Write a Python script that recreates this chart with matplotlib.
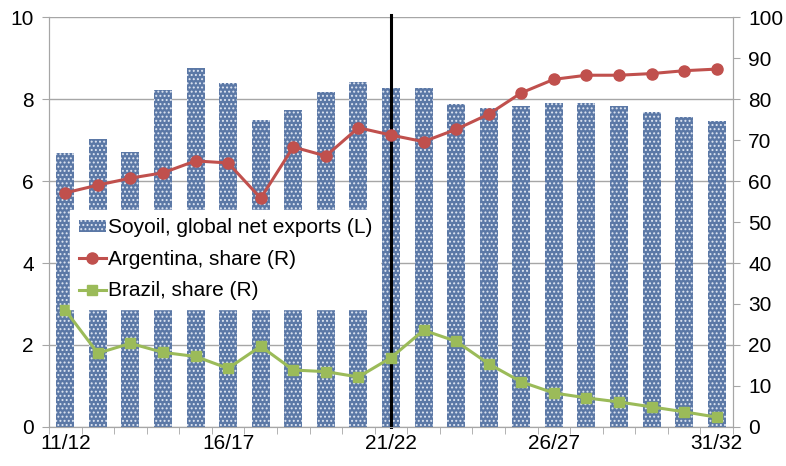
import matplotlib.pyplot as plt
import numpy as np

# marketing years 11/12 ... 31/32
years = ["%02d/%02d" % (y, y + 1) for y in range(11, 32)]
tick_labels = ["11/12", "16/17", "21/22", "26/27", "31/32"]

# soyoil global net exports (left axis)
soyoil = [6.68, 7.02, 6.70, 8.22, 8.76, 8.39, 7.49, 7.73, 8.17, 8.41, 8.27,
          8.27, 7.88, 7.78, 7.83, 7.90, 7.90, 7.83, 7.68, 7.55, 7.47]
# shares (right axis, %)
argentina = [57.1, 59.0, 60.7, 62.0, 64.9, 64.4, 55.8, 68.3, 66.1, 73.0, 71.2,
             69.6, 72.6, 76.3, 81.5, 84.8, 85.8, 85.8, 86.2, 86.9, 87.3]
brazil = [28.5, 18.0, 20.4, 18.2, 17.2, 14.3, 19.7, 13.9, 13.5, 12.2, 16.9,
          23.6, 20.9, 15.4, 11.0, 8.3, 7.1, 6.1, 4.9, 3.7, 2.4]
divider = "21/22"

plt.rcParams['font.family'] = ['Liberation Sans', 'DejaVu Sans']
plt.rcParams['hatch.linewidth'] = 0.9
plt.rcParams['hatch.color'] = '#dfe6f2'

grey = '#a6a6a6'
x = np.arange(len(years))

fig = plt.figure(figsize=(7.86, 4.66), dpi=100)
ax = fig.add_axes([0.0623, 0.0837, 0.8703, 0.8798])
ax2 = ax.twinx()

bars = ax.bar(x, soyoil, width=0.55, color='#5b78a6', edgecolor='#dfe6f2',
              linewidth=0, hatch='....', label="Soyoil, global net exports (L)", zorder=2)

ax2.plot(x, argentina, color='#c0504d', lw=2.2, marker='o', ms=8,
         label="Argentina, share (R)", zorder=3)
ax2.plot(x, brazil, color='#9bbb59', lw=2.2, marker='s', ms=7,
         label="Brazil, share (R)", zorder=3)

ax.axvline(years.index(divider), color='black', lw=2.2, zorder=4, ymax=1.005, clip_on=False)

ax.set_ylim(0, 10)
ax2.set_ylim(0, 100)
ax.set_xlim(-0.5, len(years) - 0.5)
ax.set_yticks(np.arange(0, 11, 2))
ax2.set_yticks(np.arange(0, 101, 10))
ax.yaxis.grid(True, color=grey, lw=1, zorder=0)
ax.set_axisbelow(True)

ax.set_xticks([years.index(t) for t in tick_labels])
ax.set_xticklabels(tick_labels)
ax.set_xticks(np.arange(-0.5, len(years), 1), minor=True)
ax.tick_params(axis='x', which='major', length=0, labelsize=15, pad=5)
ax.tick_params(axis='x', which='minor', length=5, color=grey, direction='out')
ax.tick_params(axis='y', length=5, color=grey, labelsize=15, pad=6)
ax2.tick_params(axis='y', length=5, color=grey, labelsize=15, pad=6)

for a in (ax, ax2):
    a.spines['top'].set_visible(False)
    for s in ('left', 'right', 'bottom'):
        a.spines[s].set_color(grey)

h1, l1 = ax.get_legend_handles_labels()
h2, l2 = ax2.get_legend_handles_labels()
leg = ax2.legend(h1 + h2, l1 + l2, loc='upper left', bbox_to_anchor=(0.031, 0.529),
                 frameon=True, fancybox=False, edgecolor='white', framealpha=1,
                 fontsize=15, handlelength=1.3, handleheight=0.5, handletextpad=0.1,
                 labelspacing=0.6, borderpad=0.4, borderaxespad=0)
leg.set_zorder(10)

fig.savefig("out.png", dpi=100)
